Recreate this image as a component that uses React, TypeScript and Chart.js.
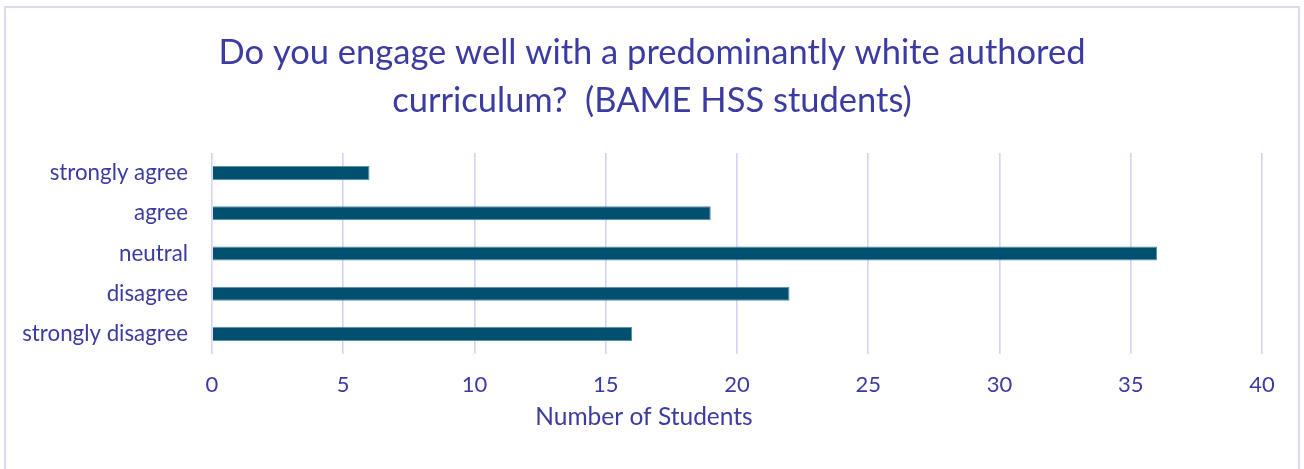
import React, { useEffect, useRef } from "react";
import { Chart, registerables } from "chart.js";

Chart.register(...registerables);

const categories = ["strongly agree", "agree", "neutral", "disagree", "strongly disagree"];
const students = [6, 19, 36, 22, 16];
const titleLines = [
  "Do you engage well with a predominantly white authored",
  "curriculum?  (BAME HSS students)",
];
const xAxisTitle = "Number of Students";
const xMin = 0;
const xMax = 40;
const xStep = 5;

const TEXT = "#3B3BA3";
const GRID = "#D6D2F4";
const BAR = "#02506F";
const BAR_EDGE = "#5C8FA8";
const FONT = "Lato, 'Open Sans', sans-serif";

const axisTitlePlugin = {
  id: "axisTitleFree",
  afterDraw(chart: any) {
    const ctx = chart.ctx;
    ctx.save();
    ctx.font = `24.5px ${FONT}`;
    ctx.fillStyle = TEXT;
    ctx.textAlign = "center";
    ctx.textBaseline = "middle";
    ctx.fillText(xAxisTitle, chart.width / 2 - 8, 417);
    ctx.restore();
  },
};

export default function App() {
  const ref = useRef<HTMLCanvasElement | null>(null);

  useEffect(() => {
    document.body.style.margin = "0";
    const canvas = ref.current;
    if (!canvas) return;
    const chart = new Chart(canvas, {
      type: "bar",
      data: {
        labels: categories,
        datasets: [
          {
            data: students,
            backgroundColor: BAR,
            borderColor: BAR_EDGE,
            borderWidth: 1,
            barPercentage: 0.35,
            categoryPercentage: 1,
            xAxisID: "x",
            yAxisID: "y",
          },
        ],
      },
      options: {
        indexAxis: "y",
        animation: false,
        responsive: false,
        maintainAspectRatio: false,
        layout: { padding: { left: 0, right: 0, top: 0, bottom: 0 } },
        plugins: {
          legend: { display: false },
          tooltip: { enabled: false },
          title: {
            display: true,
            text: titleLines,
            color: TEXT,
            font: { family: FONT, size: 34.5, weight: "normal", lineHeight: 48 / 34.5 },
            padding: { top: 29, bottom: 28 },
          },
        },
        scales: {
          x: {
            min: xMin,
            max: xMax,
            ticks: {
              stepSize: xStep,
              color: TEXT,
              font: { family: FONT, size: 22 },
              padding: 18,
            },
            grid: { color: GRID, lineWidth: 1.6, drawTicks: false },
            border: { display: false },
            afterFit: (s: any) => {
              s.height = 115;
            },
          },
          y: {
            ticks: {
              color: TEXT,
              font: { family: FONT, size: 22.3 },
              padding: 24,
            },
            grid: { display: false, drawTicks: false },
            border: { display: false },
            afterFit: (s: any) => {
              s.width = 212;
            },
          },
          yRightSpace: {
            type: "category",
            position: "right",
            labels: categories,
            ticks: { display: false },
            grid: { display: false, drawTicks: false },
            border: { display: false },
            afterFit: (s: any) => {
              s.width = 42;
            },
          },
        },
      },
      plugins: [axisTitlePlugin],
    });
    return () => chart.destroy();
  }, []);

  return (
    <div style={{ position: "relative", width: 1304, height: 469, overflow: "hidden", background: "#fff" }}>
      <div
        style={{
          position: "absolute",
          left: 4,
          top: 6,
          width: 1296,
          height: 480,
          border: "2px solid #DCD8F6",
          boxSizing: "border-box",
        }}
      />
      <canvas
        ref={ref}
        width={1304}
        height={469}
        style={{ position: "absolute", left: 0, top: 0, width: 1304, height: 469 }}
      />
    </div>
  );
}
